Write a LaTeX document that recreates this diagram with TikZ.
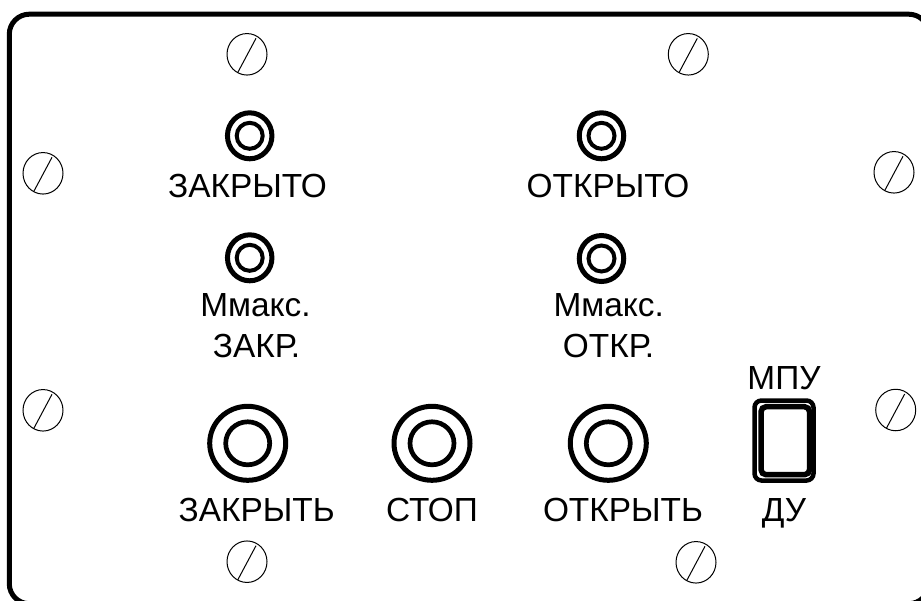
\documentclass[tikz,border=0pt]{standalone}
\usepackage{fontspec}
\setmainfont{Liberation Sans}
\usetikzlibrary{shapes.geometric}
\tikzset{
 x=1pt,y=-1pt,
 screw/.style={draw,ellipse,line width=1pt,minimum width=40pt,minimum height=41.5pt,inner sep=0pt},
 slot/.style={line width=1pt},
 ledouter/.style={draw,ellipse,line width=5pt,minimum width=44.5pt,minimum height=46pt,inner sep=0pt},
 ledinner/.style={draw,ellipse,line width=4pt,minimum width=26pt,minimum height=26pt,inner sep=0pt},
 btnouter/.style={draw,ellipse,line width=5pt,minimum width=76pt,minimum height=74pt,inner sep=0pt},
 btninner/.style={draw,ellipse,line width=4.7pt,minimum width=44pt,minimum height=43pt,inner sep=0pt},
 label/.style={font=\fontsize{33.4}{38}\selectfont,inner sep=0pt,anchor=base,text=black},
 swouter/.style={draw,line width=4.5pt,rounded corners=7pt,minimum width=59pt,minimum height=80pt,inner sep=0pt},
 swinner/.style={draw,line width=5.5pt,rounded corners=5pt,minimum width=48.5pt,minimum height=68pt,inner sep=0pt},
}
\newcommand{\screw}[3]{\node[screw] (#1) at (#2,#3) {};
 \draw[slot] (#2+9,#3-16) -- (#2-9.3,#3+18.3);}
\newcommand{\led}[3]{\node[ledouter] (#1o) at (#2,#3) {}; \node[ledinner] (#1i) at (#2,#3) {};}
\newcommand{\btn}[3]{\node[btnouter] (#1o) at (#2,#3) {}; \node[btninner] (#1i) at (#2,#3) {};}
\begin{document}
\begin{tikzpicture}
\useasboundingbox (0,0) rectangle (921,600);
\clip (0,0) rectangle (921,600);
\fill[white] (0,0) rectangle (921,600);
\draw[line width=5pt,rounded corners=20pt] (9.3,14.2) -- (928.8,14.2) -- (928.8,603.7) -- (9.3,603.7) -- cycle;
\screw{s1}{247}{54.3}
\screw{s2}{688.3}{54.3}
\screw{s3}{43}{173.3}
\screw{s4}{894}{172.3}
\screw{s5}{43}{410.3}
\screw{s6}{895.7}{410}
\screw{s7}{247}{561.7}
\screw{s8}{696}{562.3}
\led{l1}{249.7}{135.8}
\led{l2}{601.5}{135.8}
\led{l3}{249.7}{257.8}
\led{l4}{601.5}{258.5}
\btn{b1}{247.7}{443.3}
\btn{b2}{432}{443.3}
\btn{b3}{608.3}{443.3}
\node[swouter] (sw1) at (784,440.5) {};
\node[swinner] (sw2) at (785.3,440.7) {};
\node[label] (t1) at (247.5,197) {ЗАКРЫТО};
\node[label] (t2) at (608,197) {ОТКРЫТО};
\node[label] (t3) at (255.5,316.5) {Ммакс.};
\node[label] (t4) at (256.5,357.5) {ЗАКР.};
\node[label] (t5) at (608.7,316) {Ммакс.};
\node[label] (t6) at (608.5,357) {ОТКР.};
\node[label] (t7) at (256.7,521.7) {ЗАКРЫТЬ};
\node[label] (t8) at (432,521.7) {СТОП};
\node[label] (t9) at (623,521.7) {ОТКРЫТЬ};
\node[label] (t10) at (784,389) {МПУ};
\node[label] (t11) at (784,521.7) {ДУ};
\end{tikzpicture}
\end{document}
